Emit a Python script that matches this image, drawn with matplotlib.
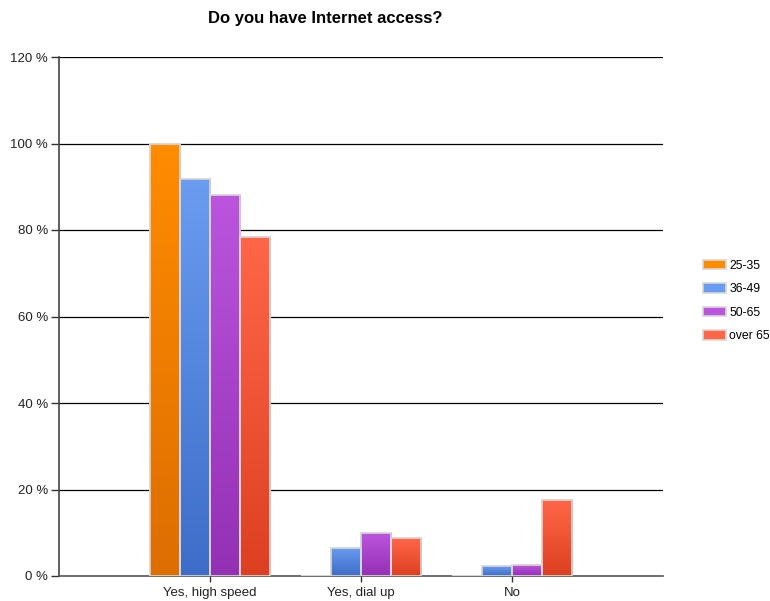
import matplotlib.pyplot as plt
import numpy as np
from matplotlib.colors import LinearSegmentedColormap

plt.rcParams['font.family'] = ['Liberation Sans', 'DejaVu Sans']

# reponses par tranche d'age (en %)
categories = ["Yes, high speed", "Yes, dial up", "No"]
groupes = ["25-35", "36-49", "50-65", "over 65"]
v_25_35 = [100, 0, 0]
v_36_49 = [91.8, 6.5, 2.3]
v_50_65 = [88.0, 9.9, 2.5]
v_over65 = [78.3, 8.7, 17.5]
valeurs = [v_25_35, v_36_49, v_50_65, v_over65]

# couleur haut / bas du degrade de chaque serie
haut = ["#ff8c00", "#6a9cf0", "#bb55dd", "#ff6648"]
bas = ["#dd6e00", "#3d6dc8", "#9430b4", "#dc4020"]

fig = plt.figure(figsize=(7.7, 6.01), dpi=100)
ax = fig.add_axes([59/770, 1-576/601, 604/770, 519/601])

x = np.arange(len(categories))
largeur = 0.2
grad = np.linspace(1, 0, 256).reshape(-1, 1)

for i in range(len(groupes)):
    pos = x - 0.3 + i*largeur
    barres = ax.bar(pos, valeurs[i], width=largeur, color=haut[i],
                    edgecolor="#d8d8d8", linewidth=1.2, label=groupes[i], zorder=3)
    cmap = LinearSegmentedColormap.from_list("g", [bas[i], haut[i]])
    for b in barres:
        if b.get_height() <= 0:
            continue
        im = ax.imshow(grad, cmap=cmap, aspect="auto", zorder=3.5,
                       extent=[b.get_x(), b.get_x()+b.get_width(), 0, b.get_height()])
        im.set_clip_path(b)
    # bordure par dessus le degrade
    ax.bar(pos, valeurs[i], width=largeur, facecolor="none",
           edgecolor="#d8d8d8", linewidth=1.2, zorder=4)

ax.set_xlim(-1, 3)
ax.set_ylim(0, 120)
ax.set_yticks(np.arange(0, 121, 20))
ax.set_yticklabels([f"{v} %" for v in range(0, 121, 20)], fontsize=9.5, color="#222222")
ax.set_xticks(x)
ax.set_xticklabels(categories, fontsize=9.5, color="#222222")
ax.tick_params(axis="y", length=6, width=1, color="#333333", pad=2)
ax.tick_params(axis="x", length=4, width=1, color="#333333", pad=4)

for v in range(20, 121, 20):
    ax.axhline(v, color="black", linewidth=0.9, zorder=1)

for s in ["top", "right"]:
    ax.spines[s].set_visible(False)
ax.spines["left"].set_color("#444444")
ax.spines["bottom"].set_color("#555555")
ax.spines["left"].set_linewidth(1.2)
ax.spines["bottom"].set_linewidth(1.2)

fig.text(325/770, 1-19/601, "Do you have Internet access?", ha="center", va="center",
         fontsize=12, fontweight="bold")

h, l = ax.get_legend_handles_labels()
leg = fig.legend(h, l, loc="center left", bbox_to_anchor=(694/770, 1-301/601),
                 frameon=False, fontsize=8.8, handlelength=1.9, handleheight=0.8,
                 labelspacing=0.95, handletextpad=0.3, borderpad=0.2)

plt.savefig("out.png", dpi=100)
